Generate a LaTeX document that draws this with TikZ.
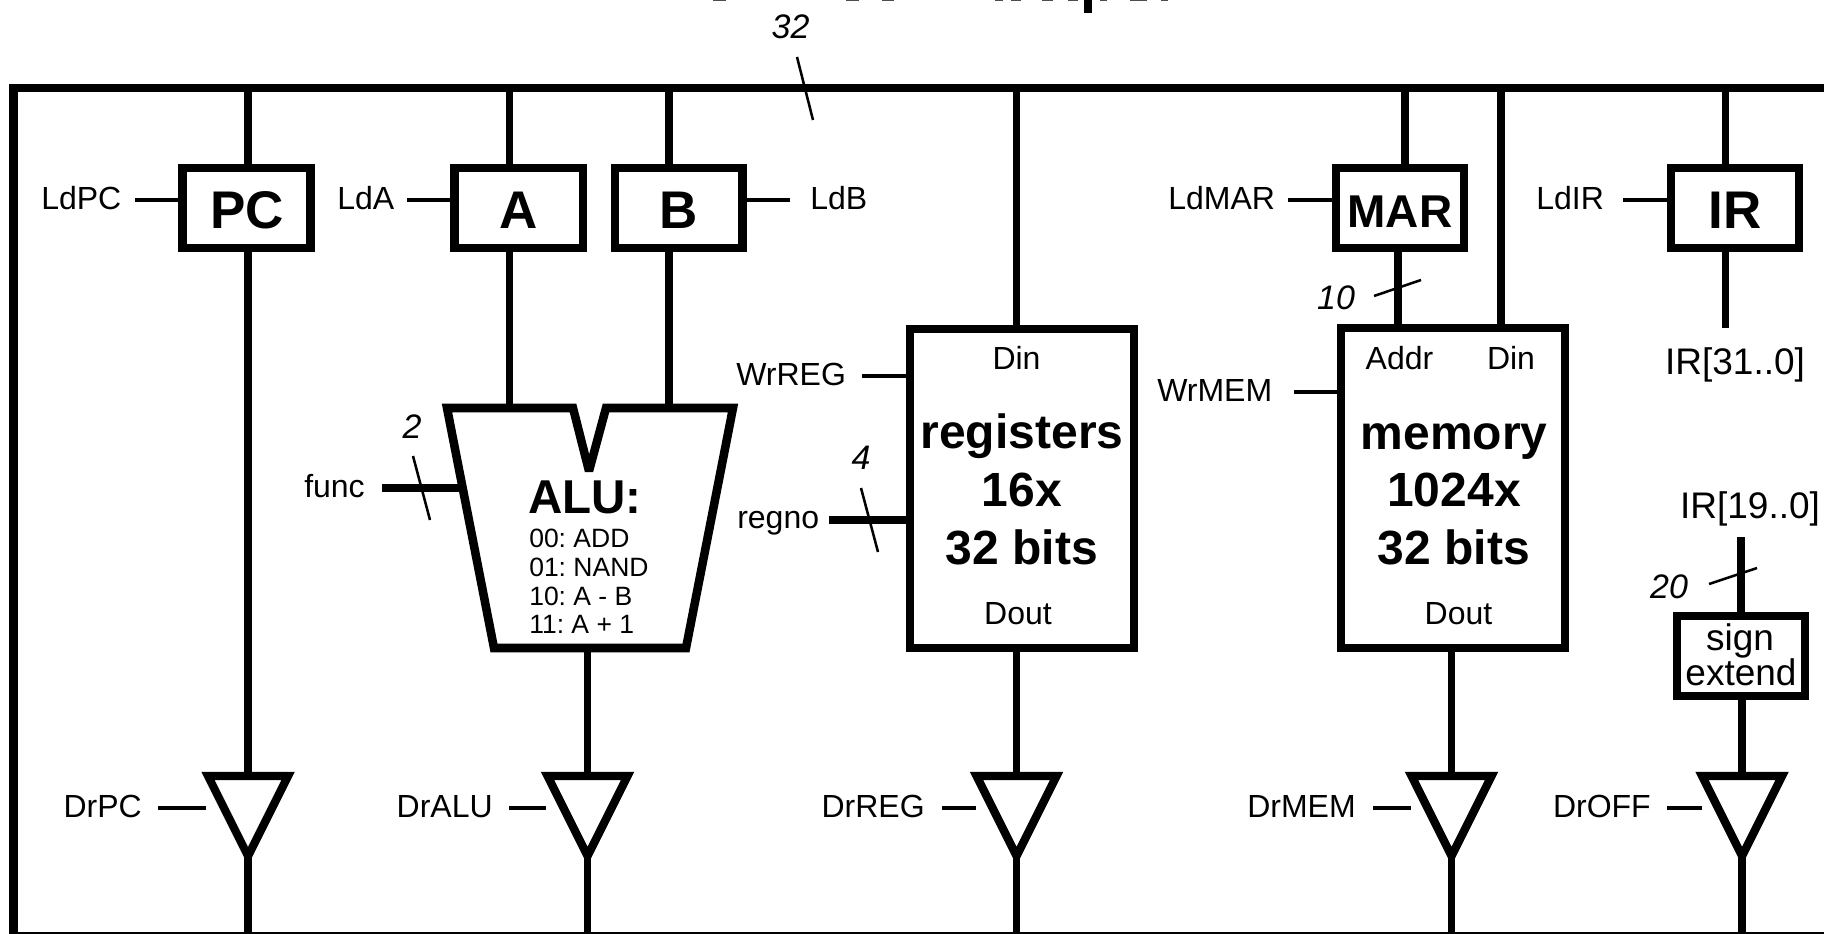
\documentclass[tikz,border=0pt]{standalone}
\usepackage{fontspec}
\setmainfont{Liberation Sans}
\frenchspacing
\newcommand{\pxfont}[1]{\fontsize{\dimexpr #1pt*3/4\relax}{\dimexpr #1pt*9/10\relax}\selectfont}
\tikzset{
  bus/.style={line width=6.2pt},
  wire/.style={line width=5.7pt},
  ctrl/.style={line width=2.4pt},
  slash/.style={line width=1.9pt},
  regbox/.style={draw,line width=6.4pt,inner sep=0pt,rectangle},
  lbl/.style={inner sep=0pt,anchor=base,font=\pxfont{32}},
  lblw/.style={inner sep=0pt,anchor=base west,font=\pxfont{32}},
  lble/.style={inner sep=0pt,anchor=base east,font=\pxfont{32}},
  biglbl/.style={inner sep=0pt,anchor=base,font=\pxfont{37}},
  width/.style={inner sep=0pt,anchor=base,font=\itshape\pxfont{34}},
  boxname/.style={inner sep=0pt,anchor=base,font=\bfseries\pxfont{53}},
  bigname/.style={inner sep=0pt,anchor=base,font=\bfseries\pxfont{48}},
  alurow/.style={inner sep=0pt,anchor=base west,font=\pxfont{26.5}},
  tri/.style={line width=6.2pt,line join=miter},
  sliver/.style={fill=black!70,draw=none},
}
\begin{document}
\begin{tikzpicture}[x=0.75pt,y=-0.75pt]
\path[use as bounding box,clip] (0,0) rectangle (1824,934);
\fill[white] (0,0) rectangle (1824,934);

% clipped remains of a title above the frame
\foreach \a/\b in {713/726,846/859,882/894,995/1003,1011/1021,1042/1053,1068/1078,1100/1107,1130/1147,1161/1168}
  \fill[sliver] (\a,0) rectangle (\b,1.5);
\fill[black] (1084,0) rectangle (1092,13);

% bus coordinates
\coordinate (busTL) at (13.5,88);
\coordinate (busTR) at (1830,88);
\coordinate (busBL) at (13.5,936);
\coordinate (busBR) at (1830,936);
\draw[bus,line join=miter] (busTR) -- (busTL) -- (busBL) -- (busBR);
\coordinate (t32a) at (797,57); \coordinate (t32b) at (813,120);
\draw[slash] (t32a) -- (t32b);
\node[width] (w32) at (790.5,39) {32};

% registers
\node[regbox,minimum width=96pt,minimum height=60pt] (pc) at (246.5,208) {};
\node[regbox,minimum width=96.4pt,minimum height=60pt] (rA) at (518.75,208) {};
\node[regbox,minimum width=95.6pt,minimum height=60pt] (rB) at (678.75,208) {};
\node[regbox,minimum width=96pt,minimum height=60pt] (mar) at (1400,208) {};
\node[regbox,minimum width=96pt,minimum height=60pt] (ir) at (1735,208) {};
\node[boxname] (pcT) at (247,229) {PC};
\node[boxname] (aT) at (518.5,229) {A};
\node[boxname] (bT) at (678.5,229) {B};
\node[boxname,font=\bfseries\pxfont{46}] (marT) at (1400,228) {MAR};
\node[boxname] (irT) at (1735,229) {IR};

\node[lblw] (ldpc) at (41,209.5) {LdPC};
\node[lblw] (lda) at (337,209.5) {LdA};
\node[lblw] (ldb) at (810,209.5) {LdB};
\node[lblw] (ldmar) at (1168,210) {LdMAR};
\node[lblw] (ldir) at (1536,210) {LdIR};
\coordinate (ldpcE) at (135,200);
\coordinate (ldaE) at (407,200);
\coordinate (ldbE) at (790,200);
\coordinate (ldmarE) at (1288,200);
\coordinate (ldirE) at (1623,200);
\draw[ctrl] (ldpcE) -- (ldpcE -| pc.west);
\draw[ctrl] (ldaE) -- (ldaE -| rA.west);
\draw[ctrl] (ldbE) -- (ldbE -| rB.east);
\draw[ctrl] (ldmarE) -- (ldmarE -| mar.west);
\draw[ctrl] (ldirE) -- (ldirE -| ir.west);

% ALU
\coordinate (alutl) at (447,408);
\coordinate (alunl) at (573,408);
\coordinate (alutip) at (589,471);
\coordinate (alunr) at (606,408);
\coordinate (alutr) at (733,408);
\coordinate (alubr) at (686,648);
\coordinate (alubl) at (494,648);
\draw[line width=6.4pt,line join=miter,miter limit=3] (alutl) -- (alunl) -- (alutip) -- (alunr) -- (alutr) -- (alubr) -- (alubl) -- cycle;
\node[boxname,font=\bfseries\pxfont{47.5}] (aluT) at (585,513) {ALU:};
\node[alurow] (alu0) at (529,547) {00: ADD};
\node[alurow] (alu1) at (529,576) {01: NAND};
\node[alurow] (alu2) at (529,605) {10: A - B};
\node[alurow] (alu3) at (529,633) {11: A + 1};
\node[lblw] (func) at (304,497) {func};
\coordinate (funcS) at (382,488);
\coordinate (funcE) at (459,488);
\draw[bus] (funcS) -- (funcE);
\coordinate (t2a) at (413,456); \coordinate (t2b) at (430,520);
\draw[slash] (t2a) -- (t2b);
\node[width] (w2) at (412,438) {2};

% register file
\node[regbox,minimum width=168pt,minimum height=239.5pt] (regs) at (1022,488.5) {};
\node[lbl] (rDin) at (1016.5,369.5) {Din};
\node[bigname] (r1) at (1022,448) {registers};
\node[bigname] (r2) at (1022,506) {16x};
\node[bigname] (r3) at (1022,564) {32 bits};
\node[lbl] (rDout) at (1018,624) {Dout};
\node[lblw] (wrreg) at (736,385.5) {WrREG};
\coordinate (wrregE) at (862,376);
\draw[ctrl] (wrregE) -- (wrregE -| regs.west);
\node[lblw] (regno) at (737,528) {regno};
\coordinate (regnoE) at (829,520);
\draw[bus] (regnoE) -- (regnoE -| regs.west);
\coordinate (t4a) at (861,488); \coordinate (t4b) at (878,552);
\draw[slash] (t4a) -- (t4b);
\node[width] (w4) at (861,469) {4};

% memory
\node[regbox,minimum width=168pt,minimum height=240pt] (mem) at (1453,488) {};
\node[lbl] (mAddr) at (1399.5,369.5) {Addr};
\node[lbl] (mDin) at (1511,369.5) {Din};
\node[bigname] (m1) at (1454,449) {memory};
\node[bigname] (m2) at (1454,506) {1024x};
\node[bigname] (m3) at (1454,564) {32 bits};
\node[lbl] (mDout) at (1458.5,624) {Dout};
\node[lblw] (wrmem) at (1157,401) {WrMEM};
\coordinate (wrmemE) at (1294,392);
\draw[ctrl] (wrmemE) -- (wrmemE -| mem.west);
\coordinate (t10a) at (1374,296); \coordinate (t10b) at (1421,280);
\draw[slash] (t10a) -- (t10b);
\node[width] (w10) at (1336,310) {10};

% IR outputs and sign extend
\coordinate (irOut) at (1725.5,328);
\node[biglbl] (ir31) at (1735,374) {IR[31..0]};
\node[biglbl] (ir19) at (1750,518) {IR[19..0]};
\coordinate (seIn) at (1741,537);
\node[regbox,minimum width=96pt,minimum height=60pt] (se) at (1741,656) {};
\node[biglbl] (se1) at (1740,650) {sign};
\node[biglbl] (se2) at (1741,685) {extend};
\coordinate (t20a) at (1709,584); \coordinate (t20b) at (1757,568);
\draw[slash] (t20a) -- (t20b);
\node[width] (w20) at (1669,598) {20};

% tri-state drivers
\foreach \n/\x in {PC/248,ALU/587.5,REG/1016.5,MEM/1451.5,OFF/1742}{
  \coordinate (tri\n top) at (\x,776);
  \coordinate (tri\n tip) at (\x,856);
  \draw[tri] (\x-40,776) -- (\x+40,776) -- (tri\n tip) -- cycle;
  \coordinate (drop\n) at (\x,936);
  \draw[wire] (tri\n tip) -- (drop\n);
}
\node[lble] (drpc) at (142,817) {DrPC};
\node[lble] (dralu) at (493,817) {DrALU};
\node[lble] (drreg) at (925,817) {DrREG};
\node[lble] (drmem) at (1356,817) {DrMEM};
\node[lble] (droff) at (1651,817) {DrOFF};
\coordinate (drpcE) at (158,808);   \coordinate (drpcT) at (206,808);
\coordinate (draluE) at (509,808);  \coordinate (draluT) at (546,808);
\coordinate (drregE) at (942,808);  \coordinate (drregT) at (976,808);
\coordinate (drmemE) at (1373,808); \coordinate (drmemT) at (1411,808);
\coordinate (droffE) at (1667,808); \coordinate (droffT) at (1702,808);
\draw[ctrl] (drpcE) -- (drpcT);
\draw[ctrl] (draluE) -- (draluT);
\draw[ctrl] (drregE) -- (drregT);
\draw[ctrl] (drmemE) -- (drmemT);
\draw[ctrl] (droffE) -- (droffT);

% vertical wires
\draw[wire] (248,88) -- (248,164);
\draw[wire] (248,252) -- (triPCtop);
\draw[wire] (509.5,88) -- (509.5,164);
\draw[wire] (509.5,252) -- (509.5,405);
\draw[wire] (669,88) -- (669,164);
\draw[wire] (669,252) -- (669,405);
\draw[wire] (alubl -| triALUtop) -- (triALUtop);
\draw[wire] (1016.5,88) -- (1016.5,325);
\draw[wire] (1016.5,652) -- (triREGtop);
\draw[wire] (1405,88) -- (1405,164);
\draw[wire] (1398,252) -- (1398,325);
\draw[wire] (1501,88) -- (1501,325);
\draw[wire] (1451.5,652) -- (triMEMtop);
\draw[wire] (1725.5,88) -- (1725.5,164);
\draw[wire] (1725.5,252) -- (irOut);
\draw[wire] (seIn) -- (1741,612);
\draw[wire] (1742,700) -- (triOFFtop);
\end{tikzpicture}
\end{document}
